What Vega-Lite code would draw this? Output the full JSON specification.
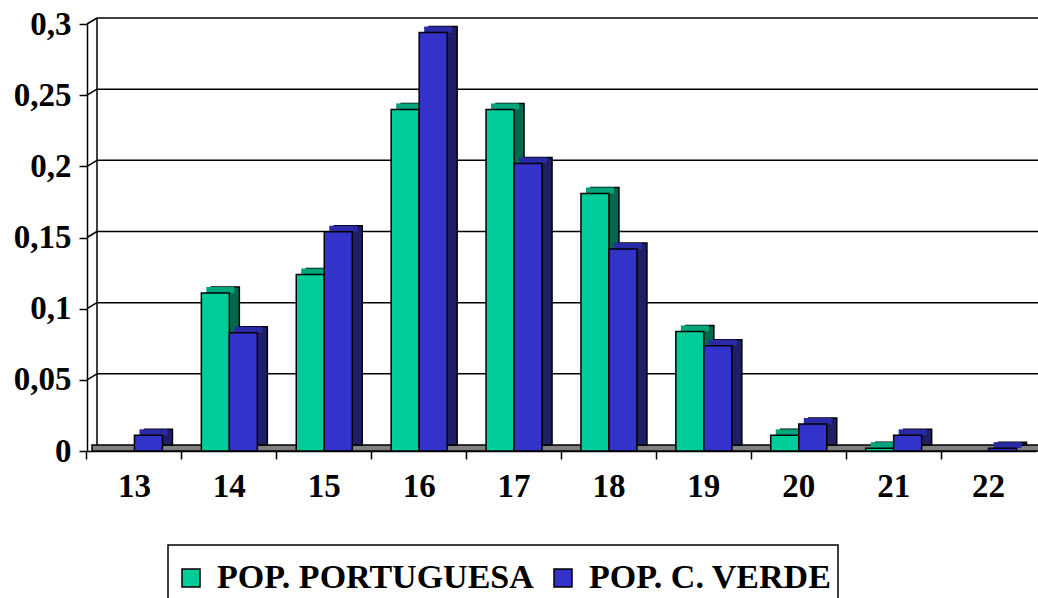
{
  "$schema": "https://vega.github.io/schema/vega-lite/v6.json",
  "width": 949,
  "height": 427,
  "autosize": "none",
  "padding": {"left": 87, "top": 24, "right": 2, "bottom": 147},
  "background": "white",
  "config": {
    "view": {"stroke": null},
    "axis": {
      "labelFont": "Liberation Serif",
      "labelFontWeight": "bold",
      "labelFontSize": 33,
      "labelColor": "black",
      "domainColor": "black",
      "domainWidth": 1.5,
      "tickColor": "black",
      "tickWidth": 1.5,
      "tickSize": 8,
      "grid": false
    },
    "legend": {"strokeColor": "black", "strokeWidth": 1.5, "fillColor": "white", "labelFont": "Liberation Serif", "labelFontWeight": "bold"}
  },
  "datasets": {
    "bars": [
      {"cat": "13", "series": "POP. PORTUGUESA", "v": 0},
      {"cat": "13", "series": "POP. C. VERDE", "v": 0.011},
      {"cat": "14", "series": "POP. PORTUGUESA", "v": 0.111},
      {"cat": "14", "series": "POP. C. VERDE", "v": 0.083},
      {"cat": "15", "series": "POP. PORTUGUESA", "v": 0.124},
      {"cat": "15", "series": "POP. C. VERDE", "v": 0.154},
      {"cat": "16", "series": "POP. PORTUGUESA", "v": 0.24},
      {"cat": "16", "series": "POP. C. VERDE", "v": 0.294},
      {"cat": "17", "series": "POP. PORTUGUESA", "v": 0.24},
      {"cat": "17", "series": "POP. C. VERDE", "v": 0.202},
      {"cat": "18", "series": "POP. PORTUGUESA", "v": 0.181},
      {"cat": "18", "series": "POP. C. VERDE", "v": 0.142},
      {"cat": "19", "series": "POP. PORTUGUESA", "v": 0.084},
      {"cat": "19", "series": "POP. C. VERDE", "v": 0.074},
      {"cat": "20", "series": "POP. PORTUGUESA", "v": 0.011},
      {"cat": "20", "series": "POP. C. VERDE", "v": 0.019},
      {"cat": "21", "series": "POP. PORTUGUESA", "v": 0.002},
      {"cat": "21", "series": "POP. C. VERDE", "v": 0.011},
      {"cat": "22", "series": "POP. PORTUGUESA", "v": 0},
      {"cat": "22", "series": "POP. C. VERDE", "v": 0.002}
    ],
    "grid": [{"g": 0.05}, {"g": 0.1}, {"g": 0.15}, {"g": 0.2}, {"g": 0.25}, {"g": 0.3}]
  },
  "layer": [
    {
      "data": {"values": [{}]},
      "mark": {"type": "rect", "fill": "#808080", "stroke": "black", "strokeWidth": 1.5, "xOffset": 5, "x2Offset": 5, "yOffset": -6},
      "encoding": {
        "x": {"datum": 0, "type": "quantitative", "scale": {"domain": [0, 1]}, "axis": null},
        "x2": {"datum": 1},
        "y": {"datum": 0, "type": "quantitative", "scale": {"domain": [0, 0.3], "nice": false}, "title": null},
        "y2": {"datum": 0}
      }
    },
    {
      "data": {"name": "grid"},
      "mark": {"type": "rule", "color": "black", "strokeWidth": 1.5, "xOffset": 10, "x2Offset": 10, "yOffset": -6},
      "encoding": {
        "x": {"datum": 0, "type": "quantitative", "scale": {"domain": [0, 1]}, "axis": null},
        "x2": {"datum": 1},
        "y": {"field": "g", "type": "quantitative", "scale": {"domain": [0, 0.3], "nice": false}, "title": null}
      }
    },
    {
      "data": {"name": "grid"},
      "mark": {"type": "rule", "color": "black", "strokeWidth": 1.5, "x2Offset": 10, "y2Offset": -6},
      "encoding": {
        "x": {"datum": 0, "type": "quantitative", "scale": {"domain": [0, 1]}, "axis": null},
        "x2": {"datum": 0},
        "y": {"field": "g", "type": "quantitative", "scale": {"domain": [0, 0.3], "nice": false}, "title": null},
        "y2": {"field": "g"}
      }
    },
    {
      "data": {"values": [{}]},
      "mark": {"type": "rule", "color": "black", "strokeWidth": 1.5, "xOffset": 10, "yOffset": -6, "y2Offset": -6},
      "encoding": {
        "x": {"datum": 0, "type": "quantitative", "scale": {"domain": [0, 1]}, "axis": null},
        "y": {"datum": 0, "type": "quantitative", "scale": {"domain": [0, 0.3], "nice": false}, "title": null},
        "y2": {"datum": 0.3}
      }
    },
    {
      "data": {"name": "bars"},
      "transform": [{"filter": "datum.v > 0"}],
      "mark": {"type": "bar", "stroke": "black", "strokeWidth": 1.5, "yOffset": -6, "y2Offset": -6},
      "encoding": {
        "x": {"field": "cat", "type": "nominal", "scale": {"domain": ["13","14","15","16","17","18","19","20","21","22"], "paddingInner": 0.41, "paddingOuter": 0.205}, "axis": null},
        "xOffset": {"field": "series", "type": "nominal", "scale": {"domain": ["POP. PORTUGUESA", "POP. C. VERDE"], "range": [10, 66], "paddingInner": 0, "paddingOuter": 0}},
        "y": {"field": "v", "type": "quantitative", "scale": {"domain": [0, 0.3], "nice": false}, "title": null},
        "color": {"field": "series", "type": "nominal", "scale": {"domain": ["POP. PORTUGUESA", "POP. C. VERDE"], "range": ["#00684D", "#1F1F68"]}, "legend": null}
      }
    },
    {
      "data": {"name": "bars"},
      "transform": [{"filter": "datum.v > 0"}],
      "mark": {"type": "bar", "yOffset": -6, "y2Offset": 0},
      "encoding": {
        "x": {"field": "cat", "type": "nominal", "scale": {"domain": ["13","14","15","16","17","18","19","20","21","22"], "paddingInner": 0.41, "paddingOuter": 0.205}, "axis": null},
        "xOffset": {"field": "series", "type": "nominal", "scale": {"domain": ["POP. PORTUGUESA", "POP. C. VERDE"], "range": [5, 61], "paddingInner": 0, "paddingOuter": 0}},
        "y": {"field": "v", "type": "quantitative", "scale": {"domain": [0, 0.3], "nice": false}, "title": null},
        "y2": {"field": "v"},
        "color": {"field": "series", "type": "nominal", "scale": {"domain": ["POP. PORTUGUESA", "POP. C. VERDE"], "range": ["#00A67B", "#2A2AA6"]}, "legend": null}
      }
    },
    {
      "data": {"name": "bars"},
      "transform": [{"filter": "datum.v > 0"}],
      "mark": {"type": "bar", "stroke": "black", "strokeWidth": 1.5},
      "encoding": {
        "x": {
          "field": "cat", "type": "nominal",
          "scale": {"domain": ["13","14","15","16","17","18","19","20","21","22"], "paddingInner": 0.41, "paddingOuter": 0.205},
          "axis": {"title": null, "labelAngle": 0, "bandPosition": -0.3475, "labelPadding": 11, "labelBaseline": "top"}
        },
        "xOffset": {"field": "series", "type": "nominal", "scale": {"domain": ["POP. PORTUGUESA", "POP. C. VERDE"], "range": [0, 56], "paddingInner": 0, "paddingOuter": 0}},
        "y": {
          "field": "v", "type": "quantitative",
          "scale": {"domain": [0, 0.3], "nice": false},
          "title": null,
          "axis": {"values": [0, 0.05, 0.1, 0.15, 0.2, 0.25, 0.3], "labelExpr": "replace(toString(datum.value), '.', ',')", "labelPadding": 8}
        },
        "color": {
          "field": "series", "type": "nominal",
          "scale": {"domain": ["POP. PORTUGUESA", "POP. C. VERDE"], "range": ["#00CC99", "#3333CC"]},
          "legend": {
            "orient": "none", "legendX": 81, "legendY": 521, "direction": "horizontal", "title": " ",
            "titleFontSize": 10, "titlePadding": 0,
            "symbolType": "square", "symbolSize": 324, "symbolStrokeColor": "black", "symbolStrokeWidth": 1.5, "symbolOpacity": 1,
            "labelFont": "Liberation Serif", "labelFontWeight": "bold", "labelFontSize": 34, "labelColor": "black", "labelLimit": 0,
            "labelOffset": 9, "columnPadding": 12, "padding": 6
          }
        }
      }
    }
  ],
  "resolve": {"scale": {"x": "independent", "xOffset": "independent", "color": "independent"}}
}
